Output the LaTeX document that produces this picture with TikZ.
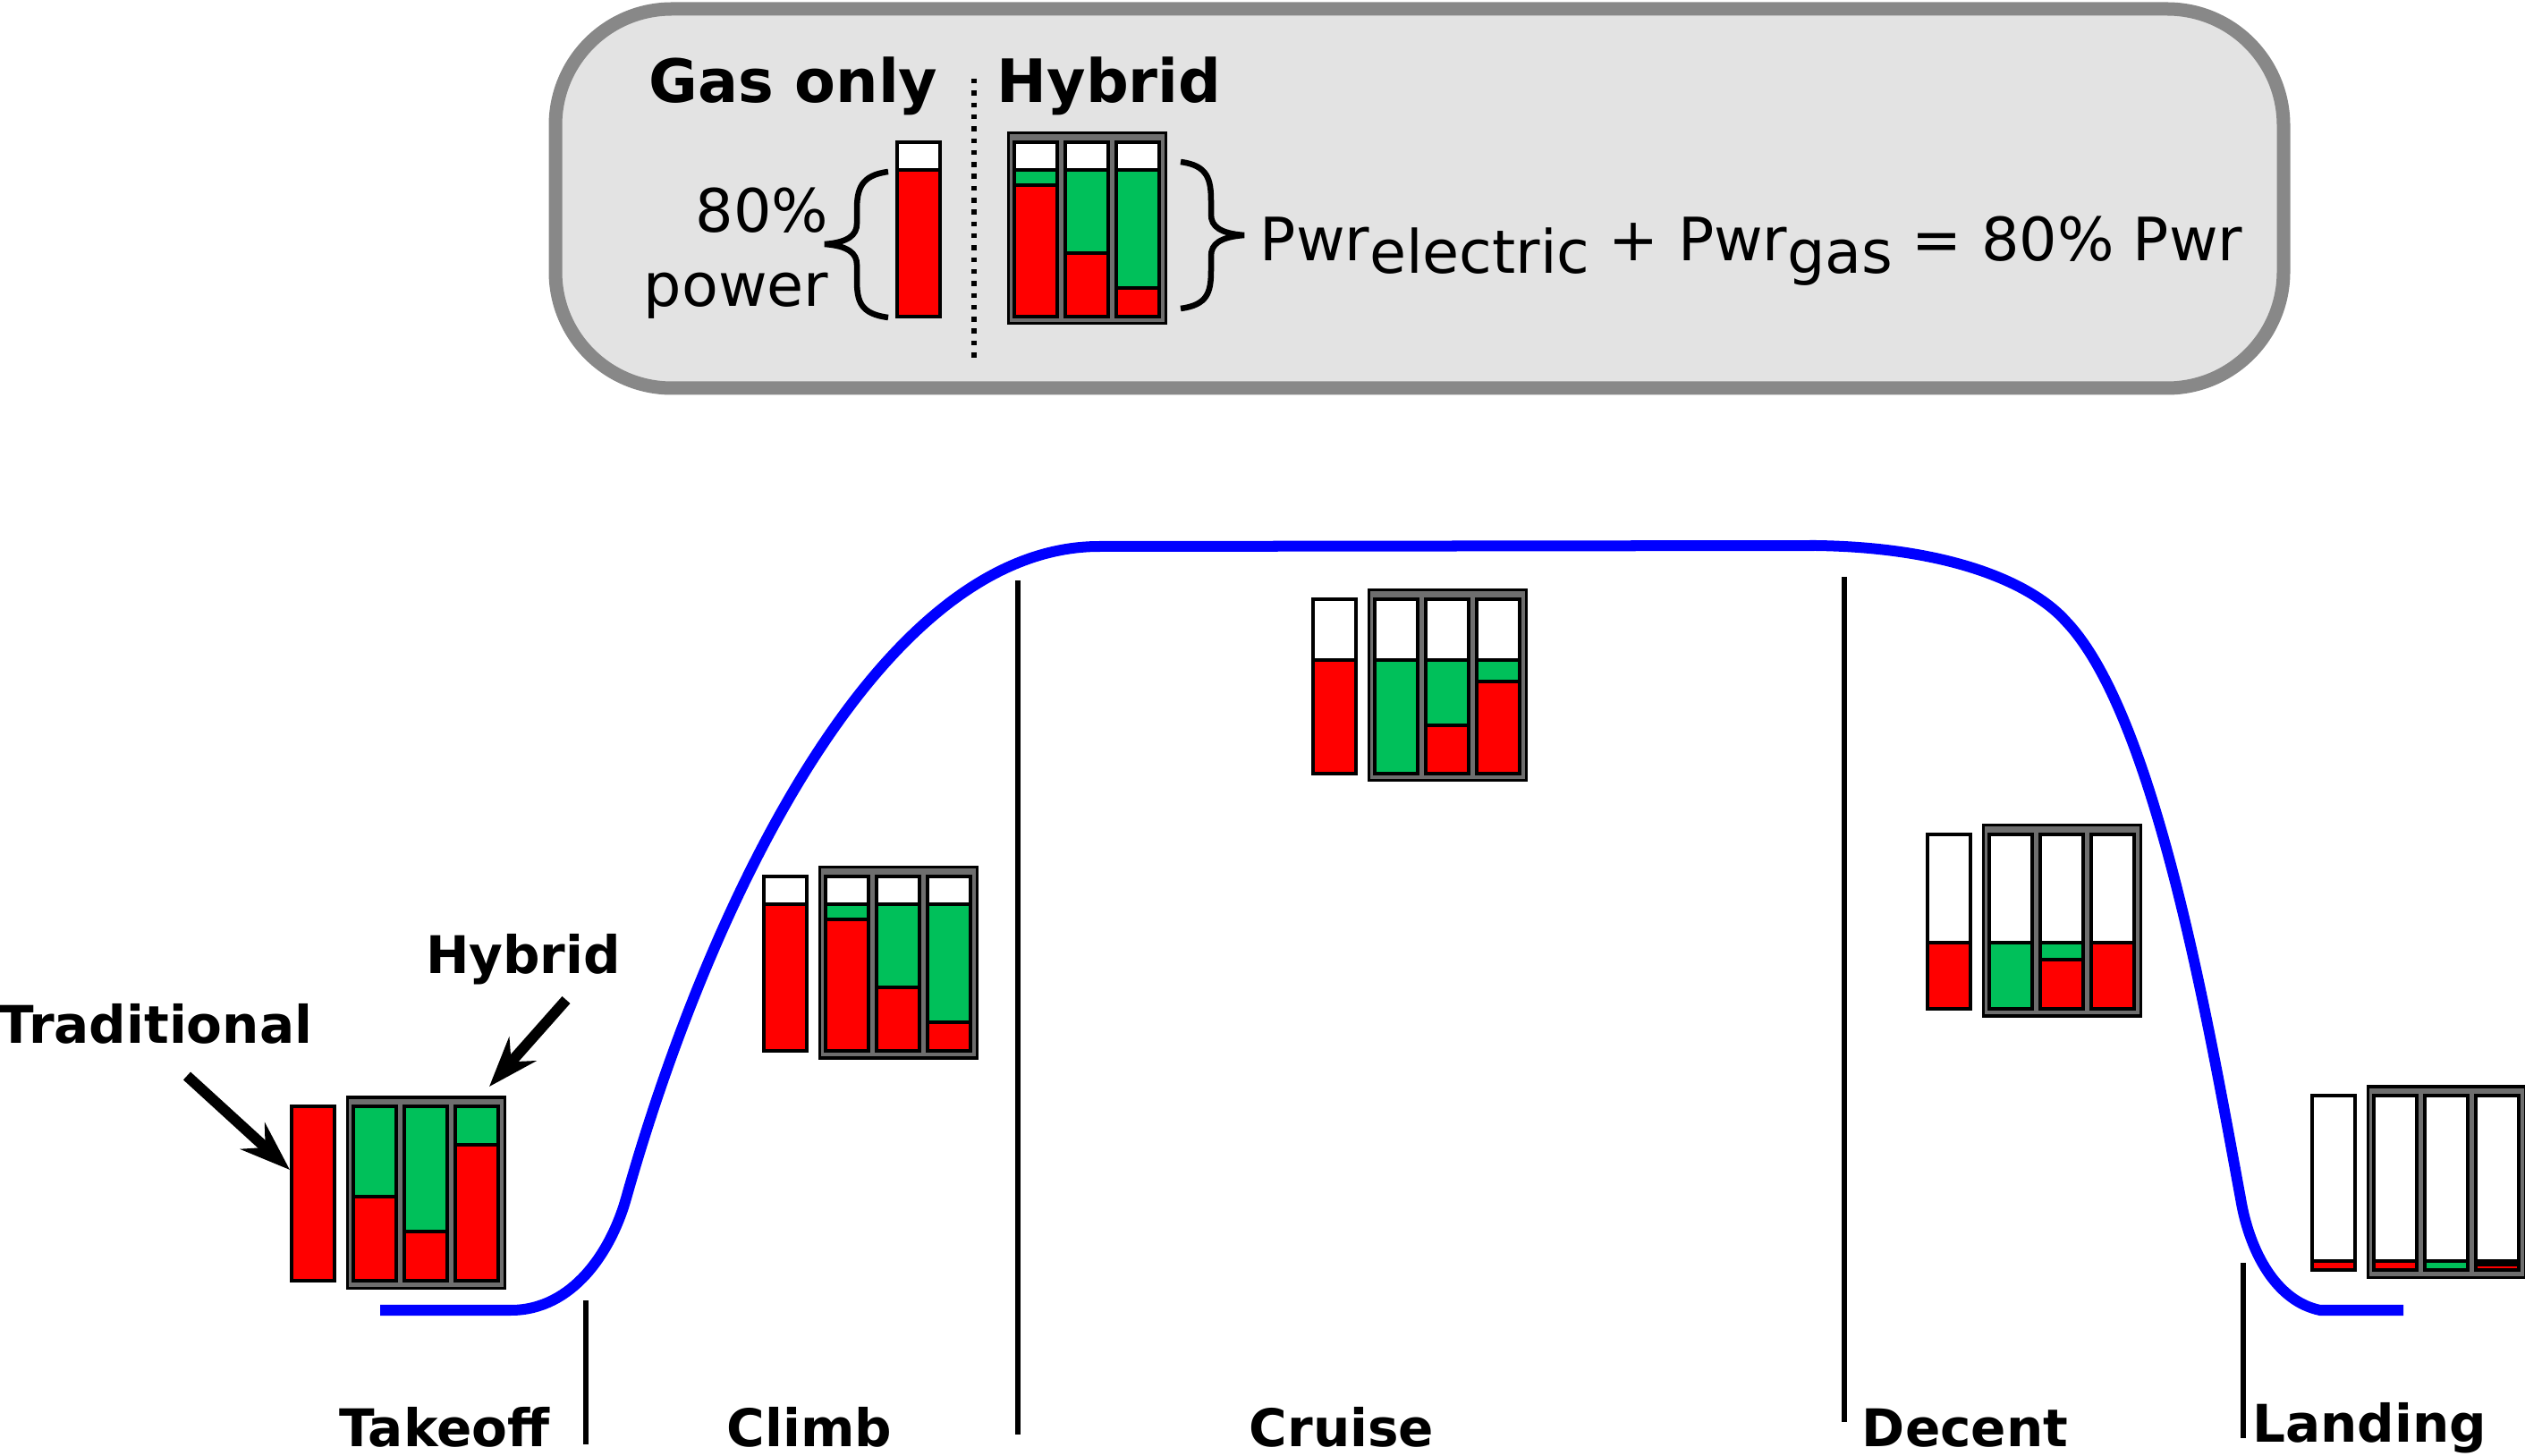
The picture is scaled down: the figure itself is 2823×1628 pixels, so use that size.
\documentclass[tikz,border=0pt]{standalone}
\usepackage{fontspec}
\setmainfont{DejaVu Sans}
\usepackage{xcolor}
\usepackage{tikz}
\usetikzlibrary{arrows.meta}
\definecolor{pwrred}{RGB}{255, 0, 0}
\definecolor{pwrgreen}{RGB}{0, 192, 90}
\definecolor{boxgray}{RGB}{110, 110, 110}
\definecolor{legendfill}{RGB}{227, 227, 227}
\definecolor{legendline}{RGB}{136, 136, 136}
\definecolor{flightblue}{RGB}{0, 0, 255}

% one bar: x, y, end of white part, end of green part (rest is red)
\newcommand{\pwrbar}[4]{%
  \draw[seg, fill=white] (#1,#2) rectangle ({#1+48},{#2+#3});
  \draw[seg, fill=pwrgreen] (#1,{#2+#3}) rectangle ({#1+48},{#2+#4});
  \draw[seg, fill=pwrred] (#1,{#2+#4}) rectangle ({#1+48},{#2+195});
}
% gas only bar
\newcommand{\gasbar}[3]{\pwrbar{#1}{#2}{#3}{#3}}
% hybrid frame with three bars
\newcommand{\hybox}[8]{%
  \draw[hybframe] (#1,{#2-10}) rectangle ({#1+176},{#2+203});
  \pwrbar{#1+7}{#2}{#3}{#4}
  \pwrbar{#1+64}{#2}{#5}{#6}
  \pwrbar{#1+121}{#2}{#7}{#8}
}

\begin{document}
\begin{tikzpicture}[x=0.01cm, y=-0.01cm,
  seg/.style={draw=black, line width=0.035cm},
  hybframe/.style={draw=black, fill=boxgray, line width=0.03cm},
  legendbox/.style={draw=legendline, fill=legendfill, line width=0.15cm, rounded corners=1.3cm},
  divider/.style={line width=0.06cm, dash pattern=on 0.055cm off 0.078cm},
  brace/.style={line width=0.065cm},
  toplbl/.style={font=\fontsize{19}{22}\selectfont\bfseries, inner sep=0pt},
  legtxt/.style={font=\fontsize{19}{22}\selectfont, inner sep=0pt},
  phaselbl/.style={font=\fontsize{16.5}{19}\selectfont\bfseries, inner sep=0pt, anchor=base},
  sep/.style={line width=0.06cm},
  flight/.style={flightblue, line width=0.12cm},
  bigarrow/.style={line width=0.12cm, -{Stealth[length=0.56cm, width=0.4cm, inset=0.19cm]}}]
  \useasboundingbox (0,0) rectangle (2823,1628);

  % legend
  \draw[legendbox] (621,10) rectangle (2553,434);
  \node[toplbl, anchor=base] (gasonly) at (887,115) {Gas only};
  \node[toplbl, anchor=base] (hybhead) at (1240,115) {Hybrid};
  \draw[divider] (1089,88) -- (1089,402);
  \node[legtxt, anchor=base east] (pct) at (927,260) {80\%};
  \node[legtxt, anchor=base east] (pwr) at (927,343) {power};
  \draw[brace] (993,192) .. controls (962,196) and (958,212) .. (958,235) -- (958,250)
    .. controls (958,263) and (948,271) .. (922,273) .. controls (948,275) and (958,283) .. (958,296)
    -- (958,313) .. controls (958,337) and (962,351) .. (993,355);
  \gasbar{1003}{159}{31}
  \hybox{1127}{159}{31}{48}{31}{124}{31}{163}
  \draw[brace] (1320,181) .. controls (1350,185) and (1354,200) .. (1354,225) -- (1354,240)
    .. controls (1354,253) and (1364,261) .. (1391,263) .. controls (1364,265) and (1354,273) .. (1354,286)
    -- (1354,302) .. controls (1354,327) and (1350,341) .. (1320,345);
  \node[legtxt, anchor=base west] (eqn) at (1408,292)
    {Pwr\raisebox{-3.7pt}{electric} + Pwr\raisebox{-3.7pt}{gas} = 80\% Pwr};

  % flight profile
  \draw[flight] (425,1465) -- (571,1465) .. controls (640,1465) and (683,1400) .. (700,1340)
    .. controls (790,1020) and (980,610) .. (1230,611) -- (2030,610)
    .. controls (2180,612) and (2272,652) .. (2310,695)
    .. controls (2410,800) and (2470,1150) .. (2505,1340)
    .. controls (2515,1400) and (2545,1455) .. (2594,1465) -- (2687,1465);

  % phase separators
  \draw[sep] (655,1454) -- (655,1615);
  \draw[sep] (1138,649) -- (1138,1604);
  \draw[sep] (2062,645) -- (2062,1590);
  \draw[sep] (2508,1412) -- (2508,1608);

  % bars per phase
  \gasbar{326}{1237}{0}
  \hybox{388}{1237}{0}{101}{0}{140}{0}{43}
  \gasbar{854}{980}{31}
  \hybox{916}{980}{31}{48}{31}{124}{31}{163}
  \gasbar{1468}{670}{68}
  \hybox{1530}{670}{68}{195}{68}{141}{68}{92}
  \gasbar{2155}{933}{121}
  \hybox{2217}{933}{121}{195}{121}{140}{121}{121}
  \gasbar{2585}{1225}{185}
  \hybox{2647}{1225}{185}{185}{185}{195}{185}{189}

  % pointers
  \node[phaselbl] (trad) at (174,1166) {Traditional};
  \node[phaselbl] (hyb) at (585,1089) {Hybrid};
  \coordinate (tradtail) at (209,1203);
  \coordinate (tradtip) at (324,1308);
  \coordinate (hybtail) at (633,1118);
  \coordinate (hybtip) at (547,1215);
  \draw[bigarrow] (tradtail) -- (tradtip);
  \draw[bigarrow] (hybtail) -- (hybtip);

  % phase names
  \node[phaselbl] (takeoff) at (497,1617) {Takeoff};
  \node[phaselbl] (climb) at (905,1617) {Climb};
  \node[phaselbl] (cruise) at (1500,1617) {Cruise};
  \node[phaselbl] (decent) at (2197,1617) {Decent};
  \node[phaselbl] (landing) at (2649,1612) {Landing};
\end{tikzpicture}
\end{document}
